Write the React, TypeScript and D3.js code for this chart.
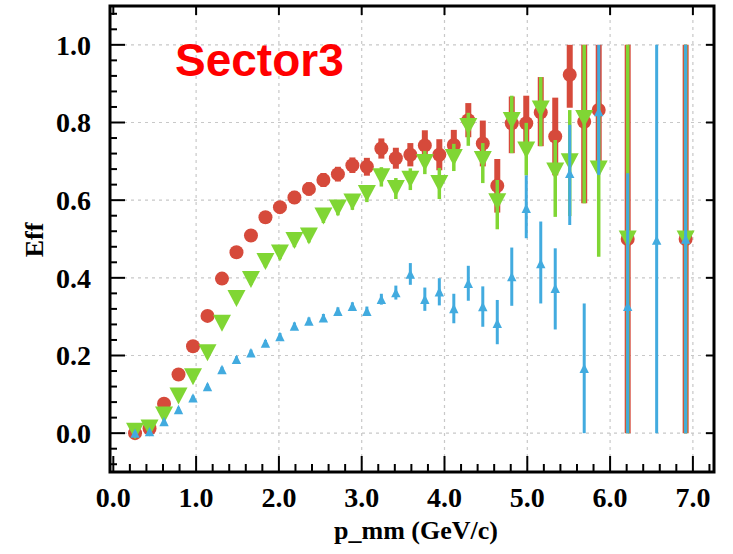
import React from "react";
import * as d3 from "d3";

// bin centres of p_mm (GeV/c)
const pRed = [0.2625,0.4375,0.6125,0.7875,0.9625,1.1375,1.3125,1.4875,1.6625,1.8375,2.0125,2.1875,2.3625,2.5375,2.7125,2.8875,3.0625,3.2375,3.4125,3.5875,3.7625,3.9375,4.1125,4.2875,4.4625,4.6375,4.8125,4.9875,5.1625,5.3375,5.5125,5.6875,5.8625,6.2125,6.9125];
const effRed = [0.0,0.012,0.076,0.151,0.224,0.302,0.398,0.466,0.509,0.556,0.582,0.607,0.629,0.652,0.667,0.69,0.686,0.733,0.708,0.717,0.741,0.717,0.742,0.806,0.746,0.637,0.798,0.798,0.826,0.764,0.923,0.802,0.832,0.5,0.5];
const errLoRed = [0.0,0.01,0.01,0.01,0.01,0.012,0.012,0.013,0.014,0.015,0.016,0.017,0.017,0.018,0.019,0.02,0.023,0.026,0.027,0.03,0.039,0.04,0.039,0.044,0.059,0.069,0.077,0.075,0.087,0.1,0.085,0.21,0.15,0.5,0.5];
const errHiRed = [0.01,0.01,0.01,0.01,0.01,0.012,0.012,0.013,0.014,0.015,0.016,0.017,0.017,0.018,0.019,0.02,0.023,0.026,0.027,0.03,0.039,0.04,0.039,0.044,0.059,0.069,0.069,0.071,0.091,0.1,0.077,0.198,0.168,0.5,0.5];

const pGreen = pRed;
const effGreen = [0.005,0.013,0.047,0.096,0.145,0.207,0.283,0.347,0.396,0.442,0.464,0.496,0.508,0.559,0.58,0.595,0.617,0.66,0.63,0.654,0.697,0.643,0.71,0.79,0.705,0.596,0.805,0.729,0.835,0.675,0.699,0.81,0.68,0.5,0.5];
const errLoGreen = [0.005,0.01,0.01,0.01,0.01,0.012,0.012,0.013,0.014,0.015,0.016,0.017,0.017,0.018,0.019,0.02,0.022,0.025,0.027,0.028,0.03,0.04,0.035,0.05,0.061,0.071,0.084,0.065,0.096,0.118,0.14,0.218,0.226,0.5,0.5];
const errHiGreen = [0.01,0.01,0.01,0.01,0.01,0.012,0.012,0.013,0.014,0.015,0.016,0.017,0.017,0.018,0.019,0.02,0.022,0.025,0.027,0.028,0.03,0.04,0.035,0.035,0.042,0.056,0.064,0.07,0.082,0.08,0.133,0.19,0.2,0.5,0.5];

const pBlue = [0.2625,0.4375,0.6125,0.7875,0.9625,1.1375,1.3125,1.4875,1.6625,1.8375,2.0125,2.1875,2.3625,2.5375,2.7125,2.8875,3.0625,3.2375,3.4125,3.5875,3.7625,3.9375,4.1125,4.2875,4.4625,4.6375,4.8125,4.9875,5.1625,5.3375,5.5125,5.6875,5.8625,6.2125,6.5625,6.9125];
const effBlue = [0.0,0.004,0.03,0.061,0.091,0.12,0.164,0.19,0.207,0.232,0.249,0.276,0.289,0.297,0.314,0.327,0.314,0.345,0.362,0.41,0.345,0.364,0.321,0.386,0.326,0.283,0.403,0.579,0.437,0.373,0.669,0.167,0.828,0.327,0.497,0.5];
const errLoBlue = [0.0,0.004,0.005,0.006,0.006,0.007,0.007,0.008,0.008,0.008,0.009,0.009,0.009,0.01,0.01,0.01,0.012,0.014,0.018,0.028,0.03,0.035,0.038,0.045,0.052,0.054,0.075,0.077,0.103,0.106,0.133,0.167,0.163,0.327,0.497,0.5];
const errHiBlue = [0.005,0.005,0.005,0.006,0.006,0.007,0.007,0.008,0.008,0.008,0.009,0.009,0.009,0.01,0.01,0.01,0.012,0.014,0.018,0.028,0.03,0.035,0.038,0.045,0.052,0.06,0.075,0.085,0.108,0.103,0.125,0.167,0.172,0.342,0.503,0.5];

const xMajorTicks = [0, 1, 2, 3, 4, 5, 6, 7];
const xTickLabels = ["0.0", "1.0", "2.0", "3.0", "4.0", "5.0", "6.0", "7.0"];
const yMajorTicks = [0, 0.2, 0.4, 0.6, 0.8, 1.0];
const yTickLabels = ["0.0", "0.2", "0.4", "0.6", "0.8", "1.0"];

const W = 733, H = 554;
const L = 110, R = 714, T = 6, B = 472;
const RED = "#d64a3b", GREEN = "#80d634", BLUE = "#42abdf";
const SERIF = "'Liberation Serif', 'Times New Roman', serif";

export default function App() {
  const x = d3.scaleLinear().domain([-0.04, 7.255]).range([L, R]);
  const y = d3.scaleLinear().domain([-0.1, 1.1]).range([B, T]);

  const xMinor = d3.range(0, 7.21, 0.2).filter(v => Math.abs(v - Math.round(v)) > 1e-6);
  const yMinor = d3.range(-0.08, 1.09, 0.04).filter(v => Math.abs(v * 5 - Math.round(v * 5)) > 1e-6);

  const downTri = d3.line()([[-9, -8.5], [9, -8.5], [0, 8.5]]) + "Z";
  const upTri = d3.line()([[-4.7, 4.7], [4.7, 4.7], [0, -4.7]]) + "Z";

  const bars = (ps: number[], eff: number[], lo: number[], hi: number[], color: string, w: number) =>
    ps.map((p, i) => (
      <line key={i} x1={x(p)} x2={x(p)} y1={y(eff[i] - lo[i])} y2={y(eff[i] + hi[i])}
        stroke={color} strokeWidth={w} />
    ));

  return (
    <svg width={W} height={H} style={{ position: "absolute", left: 0, top: 0, background: "#fff" }}>
      <rect x={0} y={0} width={W} height={H} fill="#fff" />
      {/* grid */}
      <g stroke="#c8c8c8" strokeWidth={1.2} strokeDasharray="3,4">
        {yMajorTicks.map(v => <line key={"gy" + v} x1={L} x2={R} y1={y(v)} y2={y(v)} />)}
        {xMajorTicks.filter(v => v > 0).map(v => <line key={"gx" + v} x1={x(v)} x2={x(v)} y1={T} y2={B} />)}
      </g>

      {/* red series */}
      <g>{bars(pRed, effRed, errLoRed, errHiRed, RED, 6)}</g>
      <g fill={RED}>{pRed.map((p, i) => <circle key={i} cx={x(p)} cy={y(effRed[i])} r={7} />)}</g>

      {/* green series */}
      <g>{bars(pGreen, effGreen, errLoGreen, errHiGreen, GREEN, 3.5)}</g>
      <g fill={GREEN}>{pGreen.map((p, i) => <path key={i} d={downTri} transform={`translate(${x(p)},${y(effGreen[i])})`} />)}</g>

      {/* blue series */}
      <g>{bars(pBlue, effBlue, errLoBlue, errHiBlue, BLUE, 3)}</g>
      <g fill={BLUE}>{pBlue.map((p, i) => <path key={i} d={upTri} transform={`translate(${x(p)},${y(effBlue[i])})`} />)}</g>

      {/* ticks */}
      <g stroke="#000" strokeWidth={2}>
        {yMajorTicks.map(v => <line key={"ylm" + v} x1={L} x2={L + 15} y1={y(v)} y2={y(v)} />)}
        {yMinor.map(v => <line key={"ylmi" + v} x1={L} x2={L + 7} y1={y(v)} y2={y(v)} />)}
        {yMajorTicks.map(v => <line key={"yrm" + v} x1={R - 8} x2={R} y1={y(v)} y2={y(v)} />)}
        {xMajorTicks.map(v => <line key={"xbm" + v} x1={x(v)} x2={x(v)} y1={B} y2={B - 16} />)}
        {xMinor.map(v => <line key={"xbmi" + v} x1={x(v)} x2={x(v)} y1={B} y2={B - 8} />)}
        {xMajorTicks.map(v => <line key={"xtm" + v} x1={x(v)} x2={x(v)} y1={T} y2={T + 9} />)}
      </g>
      <rect x={L} y={T} width={R - L} height={B - T} fill="none" stroke="#000" strokeWidth={3} />

      {/* tick labels */}
      <g fontFamily={SERIF} fontWeight="bold" fill="#000">
        {yMajorTicks.map((v, i) => (
          <text key={"yl" + v} x={L - 19} y={y(v)} dy="0.35em" textAnchor="end" fontSize={28}>{yTickLabels[i]}</text>
        ))}
        {xMajorTicks.map((v, i) => (
          <text key={"xl" + v} x={x(v)} y={507} textAnchor="middle" fontSize={28}>{xTickLabels[i]}</text>
        ))}
        <text x={(L + R) / 2 + 4} y={539} textAnchor="middle" fontSize={26}>p_mm (GeV/c)</text>
        <text transform={`translate(43,240) rotate(-90)`} textAnchor="middle" fontSize={26}>Eff</text>
      </g>

      <text x={175} y={76} fontFamily="'Liberation Sans', Arial, sans-serif" fontWeight="bold" fontSize={46} fill="#ff0000">Sector3</text>
    </svg>
  );
}
